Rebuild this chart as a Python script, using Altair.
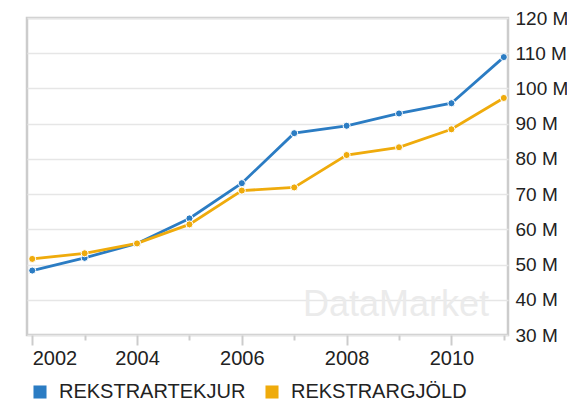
import altair as alt
import pandas as pd

years = [2002, 2003, 2004, 2005, 2006, 2007, 2008, 2009, 2010, 2011]
tekjur = [48.3, 51.9, 56.0, 63.1, 73.1, 87.3, 89.4, 92.9, 95.8, 108.9]
gjold = [51.6, 53.2, 56.0, 61.4, 71.0, 71.9, 81.1, 83.3, 88.4, 97.3]
series_names = ["REKSTRARTEKJUR", "REKSTRARGJÖLD"]
colors = ["#2b7cc3", "#efab0c"]
y_ticks = [30, 40, 50, 60, 70, 80, 90, 100, 110, 120]

rows = []
for name, vals in zip(series_names, [tekjur, gjold]):
    for yr, v in zip(years, vals):
        rows.append({"year": yr, "value": v, "series": name})
df = pd.DataFrame(rows)

FONT = "Liberation Sans"

x = alt.X(
    "year:Q",
    scale=alt.Scale(domain=[2001.9, 2011.08], nice=False, zero=False),
    axis=alt.Axis(
        title=None,
        values=years,
        format="d",
        labelExpr="datum.value % 2 == 0 ? datum.value : ''",
        grid=False,
        domain=False,
        tickColor="#cccccc",
        tickWidth=2,
        tickSize={"condition": {"test": "datum.value % 2 == 0", "value": 10}, "value": 5},
        labelFont=FONT,
        labelFontSize=20,
        labelColor="#222222",
        labelPadding=3,
        labelFlush=10,
    ),
)
y = alt.Y(
    "value:Q",
    scale=alt.Scale(domain=[30, 120], nice=False, zero=False),
    axis=alt.Axis(
        title=None,
        orient="right",
        values=y_ticks,
        labelExpr="datum.value + ' M'",
        domain=False,
        ticks=False,
        gridColor="#e6e6e6",
        gridWidth=1.5,
        labelFont=FONT,
        labelFontSize=19,
        labelColor="#222222",
        labelPadding=7,
    ),
)
color = alt.Color(
    "series:N",
    scale=alt.Scale(domain=series_names, range=colors),
    sort=series_names,
    legend=alt.Legend(
        title=None,
        orient="none",
        legendX=3,
        legendY=364,
        direction="horizontal",
        symbolType="square",
        symbolSize=170,
        symbolStrokeWidth=0,
        labelFont=FONT,
        labelFontSize=20,
        labelColor="#222222",
        labelOffset=9,
        labelLimit=0,
        columnPadding=16,
    ),
)

watermark = alt.Chart(pd.DataFrame({"t": ["DataMarket"]})).mark_text(
    font=FONT, fontSize=36, color="#ebebeb", align="left", baseline="middle"
).encode(x=alt.value(276), y=alt.value(287), text="t:N")

lines = alt.Chart(df).mark_line(strokeWidth=2.8).encode(x=x, y=y, color=color)
points = alt.Chart(df).mark_point(
    filled=True, size=50, stroke="white", strokeWidth=1, opacity=1
).encode(x=x, y=y, color=color)

chart = alt.layer(watermark, lines, points).properties(
    width=481,
    height=317,
    autosize=alt.AutoSizeParams(type="none"),
    padding={"left": 19, "top": 10, "right": 59, "bottom": 67},
).configure_view(stroke="#cccccc", strokeWidth=2.5)

chart.save("out.html", embed_options={"renderer": "svg", "actions": False})
